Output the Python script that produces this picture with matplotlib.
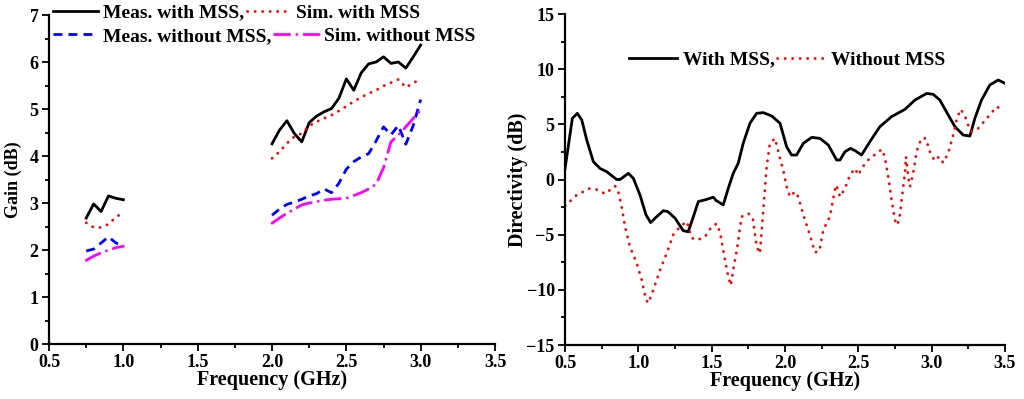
import numpy as np
import matplotlib
matplotlib.use("Agg")
import matplotlib.pyplot as plt
from matplotlib.ticker import MultipleLocator

plt.rcParams['font.family'] = ['Liberation Serif', 'DejaVu Serif']
plt.rcParams['font.weight'] = 'bold'
plt.rcParams['axes.labelweight'] = 'bold'

# ---- Gain data (left panel)
freq_lo = [0.75, 0.80, 0.85, 0.90, 0.95, 1.00]
meas_with_lo = [2.68, 2.98, 2.82, 3.15, 3.10, 3.07]
sim_with_lo = [2.58, 2.48, 2.48, 2.55, 2.70, 2.80]
meas_wo_lo = [1.98, 2.02, 2.15, 2.28, 2.15, 2.08]
sim_wo_lo = [1.78, 1.87, 1.94, 2.00, 2.05, 2.08]

freq_hi = [2.00, 2.05, 2.10, 2.15, 2.20, 2.25, 2.30, 2.35, 2.40, 2.45, 2.50,
           2.55, 2.60, 2.65, 2.70, 2.75, 2.80, 2.85, 2.90, 2.95, 3.00]
meas_with_hi = [4.26, 4.55, 4.75, 4.48, 4.30, 4.71, 4.85, 4.94, 5.01, 5.23, 5.64,
                5.40, 5.77, 5.96, 6.00, 6.11, 5.97, 6.00, 5.87, 6.11, 6.36]
sim_with_hi = [3.95, 4.09, 4.27, 4.41, 4.48, 4.64, 4.73, 4.80, 4.87, 4.96, 5.06,
               5.16, 5.25, 5.33, 5.40, 5.49, 5.56, 5.63, 5.46, 5.55, 5.65]
meas_wo_hi = [2.74, 2.87, 2.97, 3.02, 3.08, 3.15, 3.20, 3.30, 3.22, 3.42, 3.72,
              3.88, 3.98, 4.05, 4.32, 4.62, 4.45, 4.65, 4.25, 4.65, 5.20]
sim_wo_hi = [2.57, 2.68, 2.78, 2.87, 2.96, 3.00, 3.03, 3.06, 3.08, 3.09, 3.10,
             3.16, 3.22, 3.30, 3.40, 3.75, 4.30, 4.45, 4.62, 4.80, 4.98]

# ---- Directivity data (right panel)
dir_with_f = [0.5, 0.55, 0.584, 0.614, 0.648, 0.693, 0.739, 0.784, 0.852, 0.875,
              0.932, 0.966, 1.011, 1.052, 1.084, 1.125, 1.17, 1.20, 1.25, 1.306,
              1.34, 1.375, 1.409, 1.466, 1.511, 1.53, 1.579, 1.613, 1.647, 1.681,
              1.715, 1.761, 1.807, 1.852, 1.909, 1.966, 2.011, 2.045, 2.079, 2.125,
              2.182, 2.238, 2.295, 2.352, 2.375, 2.409, 2.447, 2.48, 2.522, 2.579,
              2.647, 2.727, 2.818, 2.886, 2.966, 3.011, 3.056, 3.113, 3.159, 3.215,
              3.261, 3.295, 3.34, 3.397, 3.454, 3.5]
dir_with = [1.0, 5.55, 6.0, 5.4, 3.58, 1.62, 1.0, 0.71, 0.0, 0.0,
            0.56, 0.1, -1.4, -3.2, -3.9, -3.37, -2.83, -2.9, -3.5, -4.64,
            -4.73, -3.37, -2.0, -1.8, -1.6, -1.9, -2.3, -0.8, 0.56, 1.47,
            3.28, 5.1, 6.0, 6.06, 5.76, 5.1, 2.97, 2.22, 2.22, 3.28,
            3.82, 3.73, 3.13, 1.77, 1.77, 2.52, 2.82, 2.6, 2.22, 3.43,
            4.79, 5.7, 6.36, 7.2, 7.8, 7.72, 7.2, 5.85, 4.79, 4.03,
            3.94, 5.55, 7.2, 8.57, 9.02, 8.72]

dir_wo_f = [0.5, 0.58, 0.67, 0.727, 0.773, 0.807, 0.841, 0.86, 0.886, 0.909,
            0.943, 0.989, 1.023, 1.052, 1.068, 1.102, 1.148, 1.193, 1.238, 1.284,
            1.33, 1.364, 1.398, 1.454, 1.5, 1.534, 1.557, 1.591, 1.613, 1.63,
            1.647, 1.675, 1.704, 1.75, 1.78, 1.807, 1.829, 1.852, 1.875, 1.897,
            1.932, 1.966, 1.988, 2.011, 2.034, 2.068, 2.09, 2.125, 2.17, 2.193,
            2.204, 2.234, 2.261, 2.306, 2.34, 2.35, 2.375, 2.409, 2.443, 2.477,
            2.5, 2.522, 2.567, 2.625, 2.66, 2.68, 2.704, 2.727, 2.75, 2.761,
            2.78, 2.795, 2.818, 2.825, 2.84, 2.852, 2.874, 2.897, 2.93, 2.96,
            2.988, 3.02, 3.05, 3.079, 3.113, 3.147, 3.17, 3.197, 3.225, 3.249,
            3.272, 3.318, 3.386, 3.443, 3.477]
dir_wo = [-2.4, -1.4, -0.8, -0.95, -1.3, -0.95, -0.59, -0.95, -2.46, -4.28,
          -6.1, -7.6, -9.1, -10.9, -11.2, -10.0, -8.2, -6.7, -5.0, -4.28,
          -3.8, -5.3, -5.5, -5.2, -4.28, -4.0, -4.8, -7.3, -8.8, -9.6,
          -8.2, -6.1, -3.37, -3.07, -3.5, -6.1, -6.7, -2.76, 1.16, 3.28,
          3.73, 1.9, 0.86, -0.65, -1.56, -1.1, -1.56, -3.2, -5.03, -6.1,
          -6.6, -6.5, -4.58, -3.37, -0.95, -0.5, -1.56, -0.8, 0.4, 1.0,
          0.4, 1.0, 1.77, 2.38, 2.74, 2.07, 0.25, -1.86, -3.67, -4.13,
          -3.67, -1.86, 0.56, 2.07, 0.25, -0.65, 0.56, 2.52, 3.73, 3.73,
          2.52, 1.7, 2.07, 1.52, 2.38, 4.03, 5.4, 6.36, 5.85, 4.94,
          4.34, 4.64, 5.7, 6.6, 6.36]

LW = 2.0
solid = dict(color='black', lw=LW, ls='-')
dots = dict(color='red', lw=LW, ls=(0, (0.1, 2.6)), dash_capstyle='round')
dashed = dict(color='blue', lw=LW, ls=(0, (3.2, 2.2)))
dashdot = dict(color='magenta', lw=LW, ls=(0, (5.5, 2.5, 0.1, 2.5)), dash_capstyle='round')

fig = plt.figure(figsize=(10.24, 3.99), dpi=100)
ax1 = fig.add_axes([0.0479, 0.1378, 0.4355, 0.8246])
ax2 = fig.add_axes([0.5518, 0.1353, 0.4296, 0.8296])


def style(ax):
    for s in ['top', 'right']:
        ax.spines[s].set_visible(False)
    for s in ['left', 'bottom']:
        ax.spines[s].set_linewidth(1.6)
    ax.tick_params(which='both', direction='out', width=1.3, labelsize=13, pad=2.5)
    ax.tick_params(which='major', length=5)
    ax.tick_params(which='minor', length=3)
    ax.xaxis.set_major_locator(MultipleLocator(0.5))
    ax.xaxis.set_minor_locator(MultipleLocator(0.25))
    ax.xaxis.set_major_formatter(plt.FormatStrFormatter('%.1f'))
    ax.set_xlim(0.5, 3.5)
    ax.set_xlabel('Frequency (GHz)', fontsize=14.5, labelpad=-1)


# left panel: gain
l1, = ax1.plot(freq_lo, meas_with_lo, **solid)
ax1.plot(freq_hi, meas_with_hi, **solid)
l2, = ax1.plot(freq_lo, sim_with_lo, **dots)
ax1.plot(freq_hi, sim_with_hi, **dots)
l3, = ax1.plot(freq_lo, meas_wo_lo, **dashed)
ax1.plot(freq_hi, meas_wo_hi, **dashed)
l4, = ax1.plot(freq_lo, sim_wo_lo, **dashdot)
ax1.plot(freq_hi, sim_wo_hi, **dashdot)
style(ax1)
ax1.set_ylim(0, 7)
ax1.yaxis.set_major_locator(MultipleLocator(1))
ax1.yaxis.set_minor_locator(MultipleLocator(0.5))
ax1.set_ylabel('Gain (dB)', fontsize=13)
ax1.yaxis.set_label_coords(-0.06, 0.5)

leg_kw = dict(ncol=2, frameon=False, fontsize=14, borderpad=0, borderaxespad=0,
              handlelength=2.3, handletextpad=0.25, columnspacing=0.15, loc='upper left')
leg_a = ax1.legend([l1, l2], ['Meas. with MSS,', 'Sim. with MSS'],
                   bbox_to_anchor=(0.052, 0.99), bbox_transform=fig.transFigure, **leg_kw)
ax1.add_artist(leg_a)
ax1.legend([l3, l4], ['Meas. without MSS,', 'Sim. without MSS'],
           bbox_to_anchor=(0.052, 0.932), bbox_transform=fig.transFigure, **leg_kw)

# right panel: directivity
r1, = ax2.plot(dir_with_f, dir_with, **solid)
r2, = ax2.plot(dir_wo_f, dir_wo, **dots)
style(ax2)
ax2.set_ylim(-15, 15)
ax2.yaxis.set_major_locator(MultipleLocator(5))
ax2.yaxis.set_minor_locator(MultipleLocator(2.5))
ax2.set_ylabel('Directivity (dB)', fontsize=14.5)
ax2.yaxis.set_label_coords(-0.085, 0.5)
ax2.legend([r1, r2], ['With MSS,', 'Without MSS'], ncol=2, frameon=False,
           fontsize=14, borderpad=0, borderaxespad=0, handlelength=2.5,
           handletextpad=0.3, columnspacing=0.1, loc='upper left',
           bbox_to_anchor=(0.614, 0.872), bbox_transform=fig.transFigure)

fig.savefig('out.png', dpi=100)
